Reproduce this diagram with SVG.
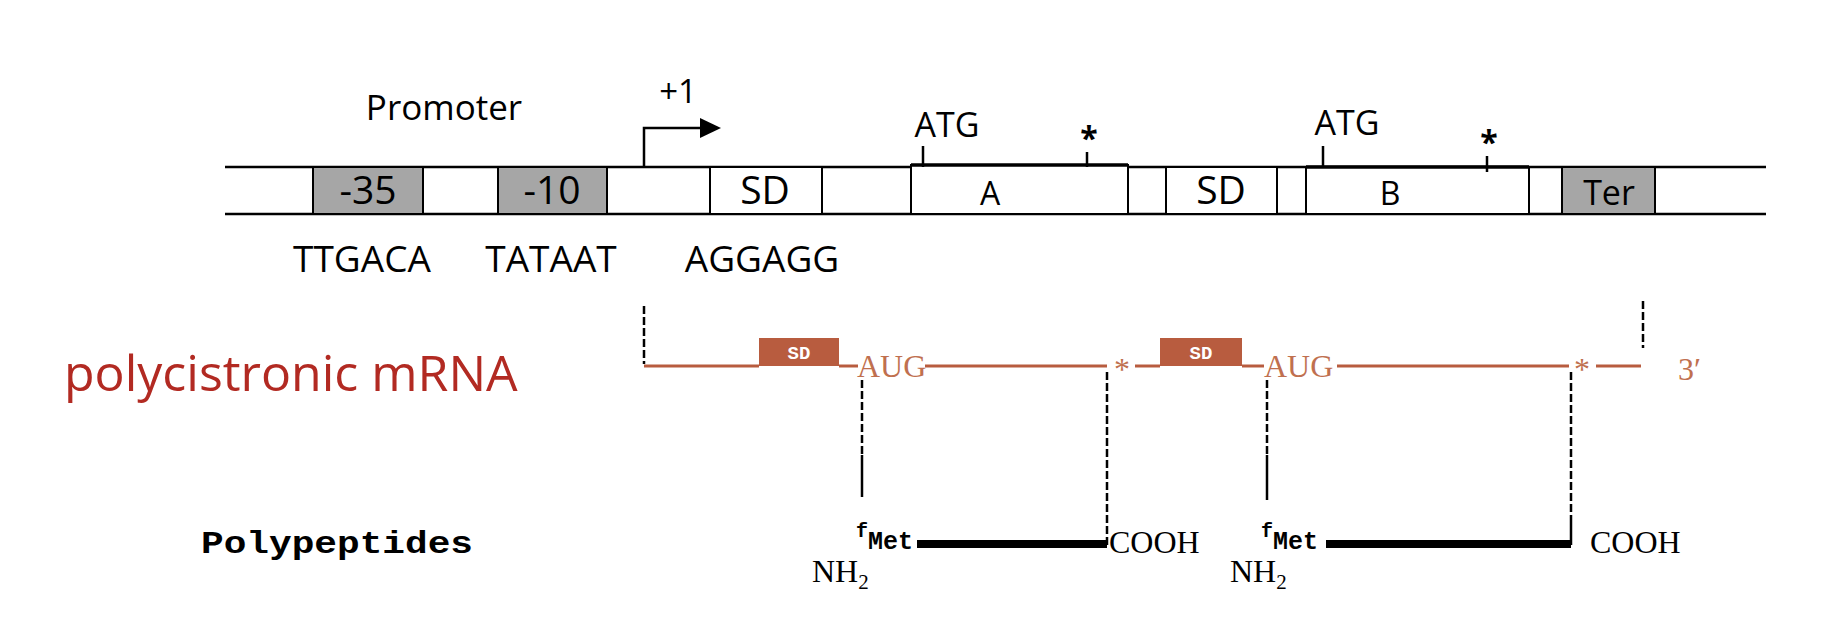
<svg xmlns="http://www.w3.org/2000/svg" width="1822" height="632" viewBox="0 0 1822 632">
<style>
.s{font-family:"Open Sans","Liberation Sans",sans-serif;fill:#000}
.ln{stroke:#000;stroke-width:2.5;fill:none}
.gray{fill:#a6a6a6;stroke:#000;stroke-width:2}
.wh{fill:#fff;stroke:#000;stroke-width:2}
.rna{stroke:#b85c3f;stroke-width:3;fill:none}
.rt{font-family:"Liberation Serif",serif;fill:#c0704f;font-size:32px}
.sdb{fill:#b85c3f}
.sdt{font-family:"Liberation Mono",monospace;font-weight:bold;fill:#fff;font-size:19px}
.dash{stroke:#000;stroke-width:2.5;stroke-dasharray:8,3;fill:none}
.mono{font-family:"Liberation Mono",monospace;font-weight:bold;fill:#000}
.ser{font-family:"Liberation Serif",serif;fill:#000;font-size:32px}
</style>
<rect width="1822" height="632" fill="#fff"/>
<g id="dna">
<line class="ln" x1="225" y1="167" x2="1766" y2="167"/>
<line class="ln" x1="225" y1="214" x2="1766" y2="214"/>
</g>
<g id="promoter"><text class="s" x="444" y="120" font-size="35" text-anchor="middle">Promoter</text></g>
<g id="tss">
<text class="s" x="678" y="103" font-size="33" text-anchor="middle">+1</text>
<polyline class="ln" points="644,167 644,128 702,128"/>
<polygon points="700,118 721,128 700,138" fill="#000"/>
</g>
<g id="m35"><rect class="gray" x="313" y="167" width="110" height="47"/><text class="s" x="368" y="204" font-size="39" text-anchor="middle">-35</text><text class="s" x="362" y="272" font-size="37" text-anchor="middle">TTGACA</text></g>
<g id="m10"><rect class="gray" x="498" y="167" width="109" height="47"/><text class="s" x="552" y="204" font-size="39" text-anchor="middle">-10</text><text class="s" x="551" y="272" font-size="37" text-anchor="middle">TATAAT</text></g>
<g id="sd1"><rect class="wh" x="710" y="167" width="112" height="47"/><text class="s" x="765" y="204" font-size="39" text-anchor="middle">SD</text><text class="s" x="762" y="272" font-size="37" text-anchor="middle">AGGAGG</text></g>
<g id="geneA">
<rect class="wh" x="911" y="165" width="217" height="49"/>
<line stroke="#000" stroke-width="3.5" x1="911" y1="165" x2="1128" y2="165"/>
<text class="s" x="990" y="205" font-size="32" text-anchor="middle">A</text>
<text class="s" x="947" y="137" font-size="34" text-anchor="middle">ATG</text>
<line class="ln" x1="923" y1="146" x2="923" y2="167"/>
<text class="s" x="1089" y="150" font-size="32" font-weight="bold" text-anchor="middle">*</text>
<line class="ln" x1="1087" y1="152" x2="1087" y2="167"/>
</g>
<g id="sd2"><rect class="wh" x="1166" y="167" width="111" height="47"/><text class="s" x="1221" y="204" font-size="39" text-anchor="middle">SD</text></g>
<g id="geneB">
<rect class="wh" x="1306" y="167" width="223" height="47"/>
<line stroke="#000" stroke-width="3.5" x1="1306" y1="167" x2="1529" y2="167"/>
<text class="s" x="1390" y="205" font-size="32" text-anchor="middle">B</text>
<text class="s" x="1347" y="135" font-size="34" text-anchor="middle">ATG</text>
<line class="ln" x1="1323" y1="146" x2="1323" y2="167"/>
<text class="s" x="1489" y="154" font-size="32" font-weight="bold" text-anchor="middle">*</text>
<line class="ln" x1="1487" y1="156" x2="1487" y2="172"/>
</g>
<g id="ter"><rect class="gray" x="1562" y="167" width="93" height="47"/><text class="s" x="1609" y="205" font-size="34" text-anchor="middle">Ter</text></g>
<g id="label"><text x="64" y="391" font-family="Open Sans,Liberation Sans,sans-serif" font-size="50" fill="#b22a22">polycistronic mRNA</text></g>
<g id="mrna">
<polyline class="rna" points="644,366 759,366"/>
<rect class="sdb" x="759" y="338" width="80" height="28"/><text class="sdt" x="799" y="359" text-anchor="middle">SD</text>
<line class="rna" x1="839" y1="366" x2="858" y2="366"/>
<text class="rt" x="857" y="377">AUG</text>
<line class="rna" x1="925" y1="366" x2="1107" y2="366"/>
<text class="rt" x="1122" y="380" font-size="38" text-anchor="middle">*</text>
<line class="rna" x1="1135" y1="366" x2="1160" y2="366"/>
<rect class="sdb" x="1160" y="338" width="82" height="28"/><text class="sdt" x="1201" y="359" text-anchor="middle">SD</text>
<line class="rna" x1="1242" y1="366" x2="1264" y2="366"/>
<text class="rt" x="1264" y="377">AUG</text>
<line class="rna" x1="1337" y1="366" x2="1569" y2="366"/>
<text class="rt" x="1582" y="380" font-size="38" text-anchor="middle">*</text>
<line class="rna" x1="1596" y1="366" x2="1641" y2="366"/>
<text class="rt" x="1678" y="380" font-size="36">3′</text>
</g>
<g id="connectors">
<line class="dash" x1="644" y1="306" x2="644" y2="364"/>
<line class="dash" x1="1643" y1="301" x2="1643" y2="348"/>
<line class="dash" x1="862" y1="380" x2="862" y2="455"/>
<line class="ln" x1="862" y1="455" x2="862" y2="497"/>
<line class="dash" x1="1107" y1="372" x2="1107" y2="545"/>
<line class="dash" x1="1267" y1="380" x2="1267" y2="455"/>
<line class="ln" x1="1267" y1="455" x2="1267" y2="500"/>
<line class="dash" x1="1571" y1="372" x2="1571" y2="520"/>
<line class="ln" x1="1571" y1="520" x2="1571" y2="545"/>
</g>
<g id="polyA">
<text class="mono" x="856" y="537" font-size="20">f</text>
<text class="mono" x="868" y="549" font-size="25">Met</text>
<line stroke="#000" stroke-width="8" x1="917" y1="544" x2="1107" y2="544"/>
<text class="ser" x="1109" y="553">COOH</text>
<text class="ser" x="812" y="582">NH<tspan font-size="21" dy="7">2</tspan></text>
</g>
<g id="polyB">
<text class="mono" x="1261" y="537" font-size="20">f</text>
<text class="mono" x="1273" y="549" font-size="25">Met</text>
<line stroke="#000" stroke-width="8" x1="1326" y1="544" x2="1571" y2="544"/>
<text class="ser" x="1590" y="553">COOH</text>
<text class="ser" x="1230" y="582">NH<tspan font-size="21" dy="7">2</tspan></text>
</g>
<g id="polypeptides"><text class="mono" x="201" y="553" font-size="31" textLength="272" lengthAdjust="spacingAndGlyphs">Polypeptides</text></g>
</svg>
